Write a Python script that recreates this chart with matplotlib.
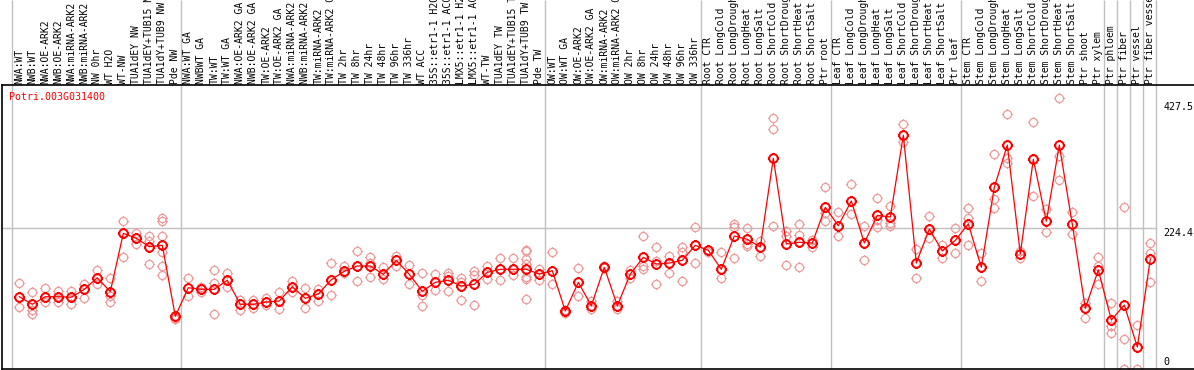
import matplotlib
matplotlib.use("Agg")
import matplotlib.pyplot as plt
from matplotlib.path import Path

gene = "Potri.003G031400"

samples = [
    "NWA:WT", "NWB:WT", "NWA:OE-ARK2", "NWB:OE-ARK2", "NWA:miRNA-ARK2", "NWB:miRNA-ARK2",
    "NW 0hr", "WT H2O", "WT-NW", "TUA1dEY NW", "TUA1dEY+TUB15 NW", "TUA1dY+TUB9 NW", "Pde NW",
    "NWA:WT GA", "NWBWT GA", "TW:WT", "TW:WT GA", "NWA:OE-ARK2 GA", "NWB:OE-ARK2 GA",
    "TW:OE-ARK2", "TW:OE-ARK2 GA", "NWA:miRNA-ARK2 GA", "NWB:miRNA-ARK2 GA", "TW:miRNA-ARK2",
    "TW:miRNA-ARK2 GA", "TW 2hr", "TW 8hr", "TW 24hr", "TW 48hr", "TW 96hr", "TW 336hr",
    "WT ACC", "35S::etr1-1 H2O", "35S::etr1-1 ACC", "LMX5::etr1-1 H2O", "LMX5::etr1-1 ACC",
    "WT-TW", "TUA1dEY TW", "TUA1dEY+TUB15 TW", "TUA1dY+TUB9 TW", "Pde TW",
    "OW:WT", "OW:WT GA", "OW:OE-ARK2", "OW:OE-ARK2 GA", "OW:miRNA-ARK2", "OW:miRNA-ARK2 GA",
    "OW 2hr", "OW 8hr", "OW 24hr", "OW 48hr", "OW 96hr", "OW 336hr",
    "Root CTR", "Root LongCold", "Root LongDrought", "Root LongHeat", "Root LongSalt",
    "Root ShortCold", "Root ShortDrought", "Root ShortHeat", "Root ShortSalt", "Ptr root",
    "Leaf CTR", "Leaf LongCold", "Leaf LongDrought", "Leaf LongHeat", "Leaf LongSalt",
    "Leaf ShortCold", "Leaf ShortDrought", "Leaf ShortHeat", "Leaf ShortSalt", "Ptr leaf",
    "Stem CTR", "Stem LongCold", "Stem LongDrought", "Stem LongHeat", "Stem LongSalt",
    "Stem ShortCold", "Stem ShortDrought", "Stem ShortHeat", "Stem ShortSalt",
    "Ptr shoot", "Ptr xylem", "Ptr phloem", "Ptr fiber", "Ptr vessel", "Ptr fiber vessel",
]

# first sample of each group (last entry = end)
group_starts = [0, 13, 41, 53, 63, 73, 84, 85, 86, 87, 88]

means = [
    114.1, 101.9, 114.1, 114.1, 113.2, 126.0, 144.7, 122.2, 216.3, 208.3, 194.7, 197.0, 82.5,
    128.6, 126.0, 126.0, 140.6, 101.9, 101.9, 105.6, 107.2, 130.2, 111.5, 118.5, 141.5, 155.1,
    163.6, 163.6, 150.2, 172.8, 150.2, 122.8, 137.3, 140.6, 131.4, 134.1, 153.4, 158.3, 158.3,
    158.3, 150.7,
    156.0, 91.1, 137.3, 99.6, 161.5, 99.6, 150.7, 177.6, 166.8, 168.4, 172.8, 197.0,
    188.9, 158.3, 212.0, 206.6, 194.2, 337.2, 199.1, 201.8, 200.7, 258.2,
    228.6, 268.4, 200.7, 245.3, 242.6, 374.3, 168.4, 223.2, 187.8, 205.0,
    231.3, 161.5, 290.5, 358.6, 183.4, 335.6, 235.7, 358.6, 230.8, 95.4, 157.2,
    76.6, 100.7, 33.0, 174.9,
]

replicates = [
    [135.7, 97.0], [121.2, 92.7, 86.2], [127.7, 106.1], [123.3, 106.1], [123.3, 101.9],
    [134.6, 112.5], [157.2, 134.1], [143.8, 115.7, 106.1], [236.1, 177.6], [217.3, 199.1],
    [212.0, 204.4, 166.8], [240.5, 236.6, 212.0, 185.7, 163.6, 148.6], [77.7, 80.0],
    [143.8, 115.2], [129.3, 121.7], [156.7, 135.7, 86.2], [152.3, 129.3], [108.8, 92.7],
    [108.8, 95.4], [112.5, 100.7], [121.2, 93.8], [139.4, 122.2], [127.7, 95.4],
    [126.0, 107.7], [168.4, 116.9], [164.1, 151.8], [187.3, 139.9], [178.1, 168.9, 145.4],
    [162.0, 143.1], [180.2, 164.1], [165.2, 134.1], [152.3, 116.9, 99.1], [150.7, 124.9],
    [152.8, 147.5, 122.8], [144.3, 138.3, 108.8], [155.5, 149.6, 100.7], [163.6, 142.2],
    [176.5, 140.6], [176.5, 149.1], [189.4, 187.3, 174.9, 166.8, 146.4, 143.1, 110.0],
    [158.3, 141.5],
    [185.7, 134.1], [87.4, 93.0], [159.9, 115.2], [107.7, 94.8], [163.6, 160.0],
    [107.7, 94.8], [156.7, 144.3], [211.5, 164.1, 158.3], [193.7, 171.2, 134.1],
    [179.7, 152.3], [194.7, 185.7, 138.9], [226.0, 168.0],
    [189.4, 186.0], [186.6, 144.7], [231.3, 226.9, 176.5], [224.9, 199.1, 195.8],
    [203.4, 180.2], [401.7, 383.9, 228.1], [219.5, 212.4, 164.7], [230.8, 213.6, 162.0],
    [206.0, 194.7], [290.5, 248.6, 236.1],
    [250.2, 212.0], [295.3, 246.9], [228.1, 172.8], [272.7, 237.7, 226.0],
    [260.3, 232.4, 228.1], [392.5, 364.0], [190.5, 143.8], [244.2, 208.7], [197.0, 176.0],
    [224.4, 185.0],
    [256.6, 241.0, 197.0], [184.1, 138.9], [344.1, 271.1, 256.6], [408.1, 338.2, 329.1],
    [188.3, 176.0], [395.2, 275.9], [255.0, 217.9], [433.9, 340.9, 301.7], [250.6, 214.4],
    [103.5, 80.3], [178.1, 163.6, 134.1],
    [103.5, 66.9, 55.1], [258.7, 45.9, -3.0], [68.0, -3.0], [200.2, 185.0, 137.3],
]

scale_labels = [0, 224.4, 427.5]

# circle with four little spikes, like the original bitmap marker
spikes = Path([(0, 1), (0, 1.3), (0, -1), (0, -1.3), (1, 0), (1.3, 0), (-1, 0), (-1.3, 0)],
              [Path.MOVETO, Path.LINETO] * 4)
marker = Path.make_compound_path(Path.unit_circle(), spikes)

mono = "DejaVu Sans Mono"

fig = plt.figure(figsize=(11.94, 3.70), dpi=100)
ax = fig.add_axes([2 / 1194, 1 / 370, 1192 / 1194, 284 / 370])

n = len(samples)
x = list(range(n))

ax.set_xlim(-1.331, 90.36)
ax.set_ylim(-2.42, 455.4)

# group separators, running up through the label area
seps = [s - 0.6 for s in group_starts]
ax.vlines(seps, 0, 1.3, transform=ax.get_xaxis_transform(), colors="#c0c0c0",
          linewidth=1, clip_on=False, zorder=1)
ax.plot([-1.331, seps[-1]], [scale_labels[1], scale_labels[1]], color="#c0c0c0",
        linewidth=1, zorder=1)

rx, ry = [], []
for i, reps in enumerate(replicates):
    for v in reps:
        rx.append(i)
        ry.append(v)
ax.plot(rx, ry, linestyle="none", marker=marker, markersize=7.6, markeredgewidth=0.9,
        markeredgecolor="#ee9a9a", markerfacecolor="none", zorder=2)

ax.plot(x, means, color="red", linewidth=0.9, zorder=3)
ax.plot(x, means, linestyle="none", marker=marker, markersize=8.0, markeredgewidth=1.4,
        markeredgecolor="red", markerfacecolor="none", zorder=4)

for i, lab in enumerate(samples):
    ax.text(i, 1.004, lab, transform=ax.get_xaxis_transform(), rotation=90,
            ha="center", va="bottom", fontsize=7, family=mono, clip_on=False)

ax.text(0.0061, 0.959, gene, transform=ax.transAxes, color="red", fontsize=7.2,
        family=mono, ha="left", va="center")

for v in scale_labels:
    ax.text(88.0, v, str(v), fontsize=7.2, family=mono, ha="left",
            va="bottom" if v == 0 else "top")

ax.set_xticks([])
ax.set_yticks([])
ax.spines["right"].set_visible(False)
for s in ["left", "top", "bottom"]:
    ax.spines[s].set_linewidth(1.2)

fig.savefig("out.png", dpi=100)
